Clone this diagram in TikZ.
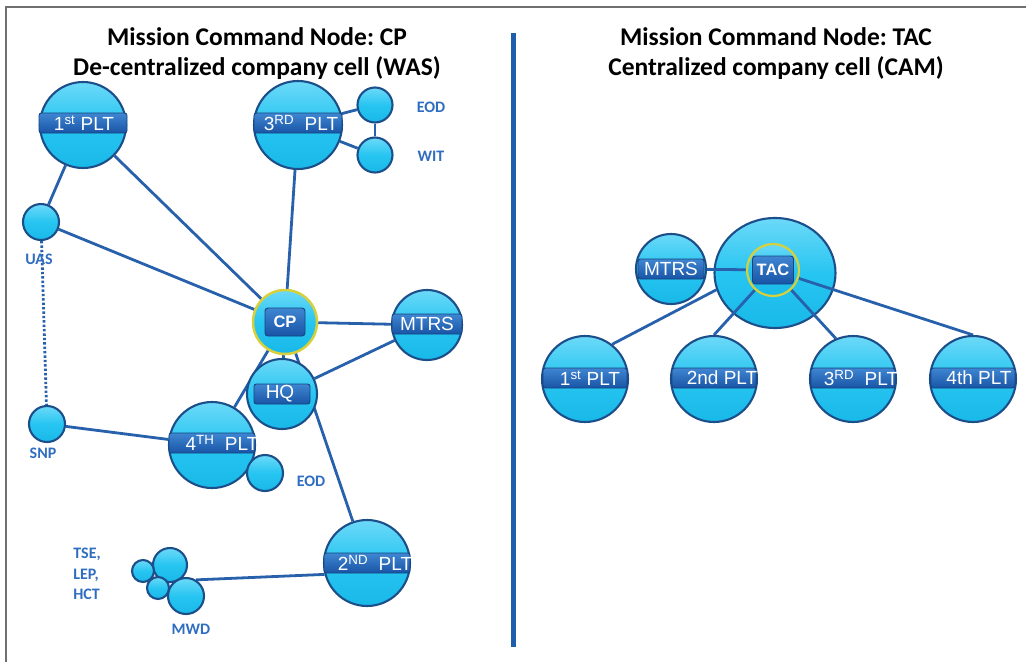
\documentclass[tikz,border=0pt]{standalone}
\usepackage{fontspec}
\setmainfont{Carlito}
\newfontfamily\arialf{Liberation Sans}
\usetikzlibrary{shapes.geometric}
\frenchspacing
\definecolor{edgeblue}{HTML}{1C4E8A}
\definecolor{balltop}{HTML}{6CD9F8}
\definecolor{ballmid}{HTML}{27C5F1}
\definecolor{ballbot}{HTML}{18B8E8}
\definecolor{bartop}{HTML}{3F86D2}
\definecolor{barbot}{HTML}{1954A6}
\definecolor{baredge}{HTML}{14457F}
\definecolor{lineblue}{HTML}{2760AB}
\definecolor{labblue}{HTML}{2F6DC0}
\definecolor{ringyellow}{HTML}{D8D03A}
\definecolor{framegray}{HTML}{707070}
\definecolor{divblue}{HTML}{1F5EA8}
\pgfdeclarelayer{back}\pgfdeclarelayer{lines}\pgfsetlayers{back,lines,main}
\tikzset{
  ball/.style={circle, draw=edgeblue, line width=2.1pt, top color=balltop, bottom color=ballbot, middle color=ballmid, inner sep=0pt},
  bar/.style={rectangle, rounded corners=2.5pt, draw=baredge, line width=0.9pt, top color=bartop, bottom color=barbot, inner sep=0pt, minimum height=20pt},
  bartxt/.style={text=white, font=\arialf\fontsize{19}{19}\selectfont, inner sep=0pt},
  cpbox/.style={rectangle, rounded corners=3pt, draw=baredge, line width=0.9pt, top color=bartop, bottom color=barbot, inner sep=0pt, minimum width=40pt, minimum height=28pt, text=white, font=\arialf\bfseries\fontsize{16.5}{16.5}\selectfont},
  lab/.style={text=labblue, font=\bfseries\fontsize{16}{20.5}\selectfont, inner sep=0pt},
  ttl/.style={font=\bfseries\fontsize{25.5}{30}\selectfont, anchor=base, inner sep=0pt},
  conn/.style={draw=lineblue, line width=2.8pt},
}
\newcommand\platoon[7]{%
  \node[ball, minimum size=#3pt] (#1) at (#2) {};
  \node[bar, minimum width=#4pt, yshift=#7pt] (#1bar) at (#1) {};
  \node[bartxt, xshift=#6pt] (#1txt) at (#1bar) {#5};}
\begin{document}
\begin{tikzpicture}[x=1pt,y=-1pt]
\useasboundingbox (0,0) rectangle (1026,662);
% frame and divider
\coordinate (f1) at (6,662);
\coordinate (f2) at (6,7);
\coordinate (f3) at (1026,7);
\draw[framegray, line width=2.5pt] (f1) -- (f2) -- (f3);
\coordinate (d1) at (513.5,33);
\coordinate (d2) at (513.5,647);
\draw[divblue, line width=5pt] (d1) -- (d2);
% titles
\node[ttl] (t1a) at (257,45) {Mission Command Node: CP};
\node[ttl] (t1b) at (257,75) {De-centralized company cell (WAS)};
\node[ttl] (t2a) at (776,45) {Mission Command Node: TAC};
\node[ttl] (t2b) at (776,75) {Centralized company cell (CAM)};
% ---------- left side ----------
\platoon{p1}{83,125}{86}{88}{1\textsuperscript{st} PLT}{1}{2}
\platoon{p3}{298,125}{88}{88}{3\textsuperscript{RD}\ \ PLT}{3}{2}
\node[ball, minimum size=35pt] (eod1) at (375,105) {};
\node[ball, minimum size=35pt] (wit) at (375,155) {};
\node[ball, minimum size=36pt] (uas) at (41,222) {};
\node[ball, minimum size=36pt] (snp) at (47,424) {};
\platoon{mt}{427,325}{70}{70}{MTRS}{0}{1}
\platoon{hq}{282,394}{70}{56}{HQ}{-2}{0}
\platoon{p4}{212,445}{86}{86}{4\textsuperscript{TH}\ \ PLT}{10}{2}
\node[ball, minimum size=36pt] (eod2) at (265,473) {};
\platoon{p2}{367,563}{86}{86}{2\textsuperscript{ND}\ \ PLT}{8}{0}
\node[ball, minimum size=34pt] (m1) at (170,565) {};
\node[ball, minimum size=36pt] (m4) at (186,596) {};
\node[ball, minimum size=22pt] (m2) at (143,571) {};
\node[ball, minimum size=22pt] (m3) at (158,588) {};
\node[ball, draw=ringyellow, line width=2.5pt, minimum size=64pt] (cp) at (285,322) {};
\node[cpbox] (cpbox) at (cp) {CP};
% labels
\node[lab] (leod1) at (431,107) {EOD};
\node[lab] (lwit) at (431,156) {WIT};
\node[lab] (luas) at (39,259) {UAS};
\node[lab] (lsnp) at (43,453) {SNP};
\node[lab] (leod2) at (311,481) {EOD};
\node[lab, align=left] (ltse) at (87,574) {TSE,\\LEP,\\HCT};
\node[lab] (lmwd) at (191,629) {MWD};
% ---------- right side ----------
\begin{pgfonlayer}{back}
\node[ellipse, draw=edgeblue, line width=2.1pt, top color=balltop, bottom color=ballbot, middle color=ballmid, inner sep=0pt, minimum width=121pt, minimum height=110pt] (tacbig) at (775,273) {};
\end{pgfonlayer}
\node[ball, draw=ringyellow, line width=2.2pt, minimum size=52pt] (tac) at (773,270) {};
\node[cpbox, minimum width=41pt] (tacbox) at (tac) {TAC};
\platoon{rm}{671,269}{70}{66}{MTRS}{0}{0}
\platoon{r1}{585,379}{86}{84}{1\textsuperscript{st} PLT}{5}{1}
\platoon{r2}{714,379}{86}{84}{2nd PLT}{8}{1}
\platoon{r3}{853,379}{86}{84}{3\textsuperscript{RD}\ \ PLT}{8}{1}
\platoon{r4}{973,379}{86}{84}{4th PLT}{6}{1}
% ---------- connectors ----------
\begin{pgfonlayer}{lines}
\draw[conn] (p1) -- (uas);
\draw[conn] (p1) -- (cp);
\draw[conn] (uas) -- (cp);
\draw[conn] (p3) -- (cp);
\draw[conn] (p3) -- (eod1);
\draw[conn] (p3) -- (wit);
\draw[conn] (eod1) -- (wit);
\draw[conn] (cp) -- (mt);
\draw[conn] (cp) -- (hq);
\draw[conn] (cp) -- (p4);
\draw[conn] (cp) -- (p2);
\draw[conn] (hq) -- (mt);
\draw[conn] (snp) -- (p4);
\draw[conn] (m4.58) -- (p2.195);
\draw[conn, dash pattern=on 2.4pt off 2pt] (uas) -- (snp);
\draw[conn] (rm) -- (tac);
\draw[conn] (r1.52) -- (tacbig.196);
\draw[conn] (r2.north) -- (tac);
\draw[conn] (r3.113) -- (tac);
\draw[conn] (r4.north) -- (tac);
\end{pgfonlayer}
\end{tikzpicture}
\end{document}
